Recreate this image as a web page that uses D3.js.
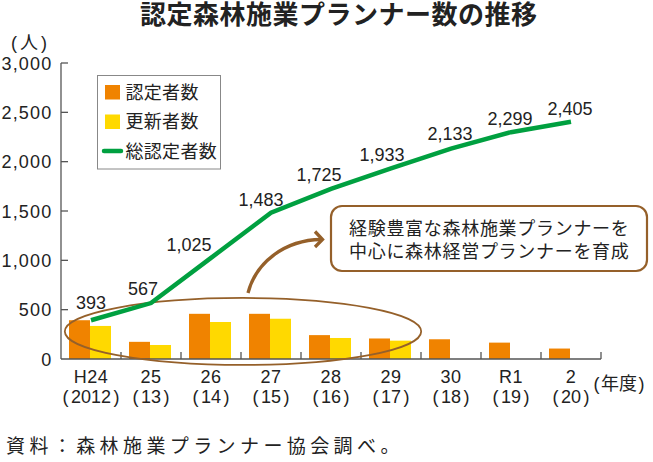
<!DOCTYPE html>
<html><head><meta charset="utf-8">
<script src="https://cdn.jsdelivr.net/npm/d3@7"></script>
<style>
body{margin:0;background:#fff;}
svg{display:block;font-family:"Liberation Sans","Noto Sans CJK JP",sans-serif;}
</style></head>
<body><svg id="c" width="653" height="462"></svg>
<script>
const categories = ["H24","25","26","27","28","29","30","R1","2"];
const categorySub = ["2012","13","14","15","16","17","18","19","20"];
const newCerts = [393,174,458,458,242,208,200,166,106];
const renewals = [335,142,375,408,213,186,null,null,null];
const totals = [393,567,1025,1483,1725,1933,2133,2299,2405];
const yTicks = [0,500,1000,1500,2000,2500,3000];
const seriesNames = ["認定者数","更新者数","総認定者数"];
const labelOffsets = [[0,-11],[-8,-8],[-22,-7],[-10,-7],[-12,-8],[-9,-7],[-1,-9],[-1,-7],[-1,-7]];

const C_OR="#F08300", C_YE="#FFD900", C_GR="#00A040", C_BR="#95602A", C_AX="#555";
const svg=d3.select("#c");
const x=d3.scaleBand().domain(categories).range([61,601]);
const xs=d3.scaleBand().domain(["n","r"]).range([8,50]);
const y=d3.scaleLinear().domain([0,3000]).range([359,63]);

function parenText(sel, inner, gap){
  sel.append("tspan").text("(");
  sel.append("tspan").attr("dx",gap).text(inner);
  sel.append("tspan").attr("dx",gap).text(")");
}

// title
svg.append("text").attr("x",140).attr("y",23.5).attr("font-size",26).attr("font-weight","bold")
  .attr("letter-spacing",0.5).attr("fill","#222").text("認定森林施業プランナー数の推移");
const unit=svg.append("text").attr("x",29).attr("y",49).attr("text-anchor","middle").attr("font-size",18).attr("fill","#222");
parenText(unit,"人",3);

// bars
const g=svg.append("g");
categories.forEach((c,i)=>{
  g.append("rect").attr("x",x(c)+xs("n")).attr("width",xs.bandwidth())
   .attr("y",y(newCerts[i])).attr("height",y(0)-y(newCerts[i])).attr("fill",C_OR);
  if(renewals[i]!=null) g.append("rect").attr("x",x(c)+xs("r")).attr("width",xs.bandwidth())
   .attr("y",y(renewals[i])).attr("height",y(0)-y(renewals[i])).attr("fill",C_YE);
});

// axes
svg.append("line").attr("x1",61).attr("x2",61).attr("y1",y(3000)).attr("y2",y(0)).attr("stroke",C_AX).attr("stroke-width",1.3);
svg.append("line").attr("x1",61).attr("x2",601).attr("y1",y(0)).attr("y2",y(0)).attr("stroke",C_AX).attr("stroke-width",1.3);
yTicks.forEach(t=>{
  if(t>0) svg.append("line").attr("x1",61).attr("x2",68).attr("y1",y(t)).attr("y2",y(t)).attr("stroke",C_AX).attr("stroke-width",1.3);
  svg.append("text").attr("x",52.5).attr("y",y(t)+6.5).attr("text-anchor","end").attr("font-size",18)
   .attr("letter-spacing",1.2).attr("fill","#222").text(d3.format(",")(t));
});
categories.forEach((c,i)=>{
  svg.append("line").attr("x1",x(c)+x.bandwidth()).attr("x2",x(c)+x.bandwidth()).attr("y1",y(0)).attr("y2",y(0)-7).attr("stroke",C_AX).attr("stroke-width",1.3);
  const cx=x(c)+x.bandwidth()/2;
  svg.append("text").attr("x",cx).attr("y",383).attr("text-anchor","middle").attr("font-size",18).attr("letter-spacing",0.5).attr("fill","#222").text(c);
  const t=svg.append("text").attr("x",cx).attr("y",403).attr("text-anchor","middle").attr("font-size",18).attr("fill","#222");
  parenText(t,categorySub[i],2.5);
});
const yr=svg.append("text").attr("x",619).attr("y",390).attr("text-anchor","middle").attr("font-size",18).attr("fill","#222");
parenText(yr,"年度",1.5);

// ellipse annotation
svg.append("ellipse").attr("cx",x("27")+2).attr("cy",y(279)).attr("rx",x.bandwidth()*2.97).attr("ry",33.5)
  .attr("fill","none").attr("stroke",C_BR).attr("stroke-width",1.8);

// line
const line=d3.line().x((d,i)=>x(categories[i])+x.bandwidth()/2).y(d=>y(d));
svg.append("path").datum(totals).attr("d",line).attr("fill","none").attr("stroke",C_GR).attr("stroke-width",4.5);
totals.forEach((v,i)=>{
  svg.append("text").attr("x",x(categories[i])+x.bandwidth()/2+labelOffsets[i][0]).attr("y",y(v)+labelOffsets[i][1])
   .attr("text-anchor","middle").attr("font-size",18).attr("fill","#222").text(d3.format(",")(v));
});

// legend
svg.append("rect").attr("x",97.5).attr("y",75.5).attr("width",123).attr("height",93.5).attr("fill","#fff").attr("stroke","#888").attr("stroke-width",1);
svg.append("rect").attr("x",105).attr("y",85).attr("width",15).attr("height",14.5).attr("fill",C_OR);
svg.append("rect").attr("x",105).attr("y",114.5).attr("width",15).attr("height",14.5).attr("fill",C_YE);
svg.append("line").attr("x1",104).attr("x2",121).attr("y1",151).attr("y2",151).attr("stroke",C_GR).attr("stroke-width",4.5).attr("stroke-linecap","round");
[98.5,128,157.5].forEach((yy,i)=>{
  svg.append("text").attr("x",125.5).attr("y",yy).attr("font-size",18).attr("letter-spacing",0.3).attr("fill","#222").text(seriesNames[i]);
});

// callout
svg.append("rect").attr("x",331).attr("y",206).attr("width",316).attr("height",65).attr("rx",11)
  .attr("fill","#fff").attr("stroke",C_BR).attr("stroke-width",2.2);
svg.append("text").attr("x",349).attr("y",235).attr("font-size",18).attr("letter-spacing",0.7).attr("fill","#222").text("経験豊富な森林施業プランナーを");
svg.append("text").attr("x",349).attr("y",257.5).attr("font-size",18).attr("letter-spacing",0.7).attr("fill","#222").text("中心に森林経営プランナーを育成");
svg.append("path").attr("d","M248,293 C256,262 285,240 321,239.5").attr("fill","none").attr("stroke",C_BR).attr("stroke-width",3.3);
svg.append("path").attr("d","M315,231.5 L322.5,239.5 L315,247").attr("fill","none").attr("stroke",C_BR).attr("stroke-width",3.3).attr("stroke-linejoin","miter");

// source
svg.append("text").attr("x",6).attr("y",452.5).attr("font-size",19).attr("letter-spacing",4.4).attr("fill","#222").text("資料：森林施業プランナー協会調べ。");
</script></body></html>
